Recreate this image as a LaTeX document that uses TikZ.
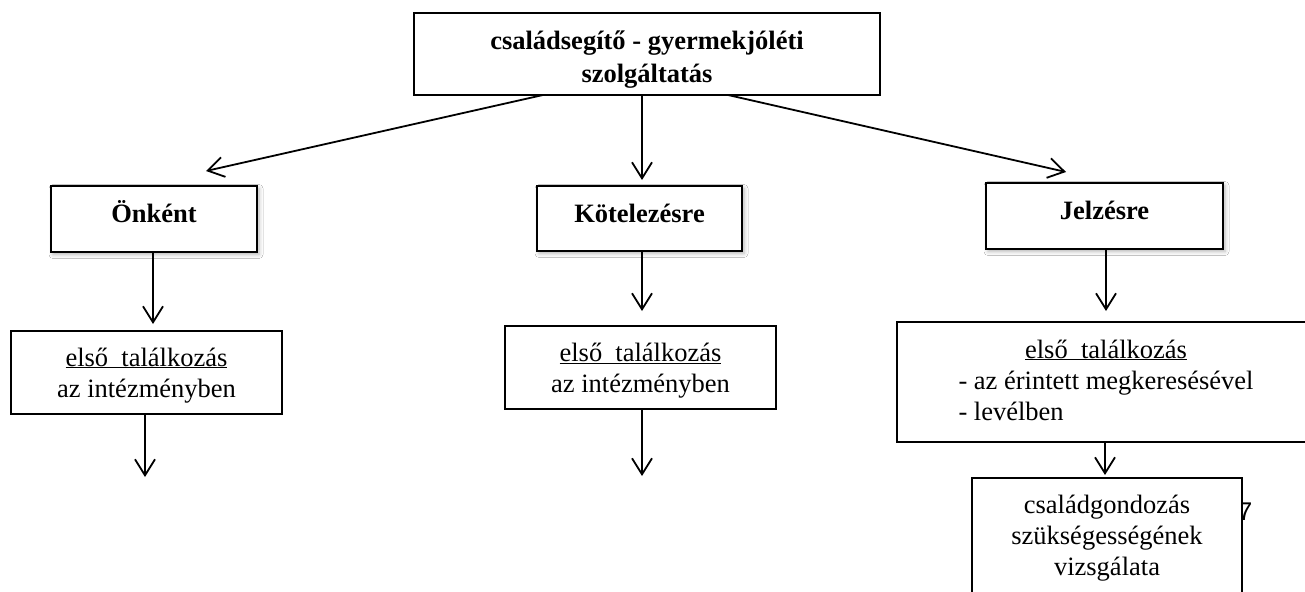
\documentclass[tikz,border=0pt]{standalone}
\usepackage{fontspec}
\setmainfont{Liberation Serif}
\newfontfamily\pagenumfont{Liberation Sans}
\usetikzlibrary{arrows.meta,shadows.blur}
\begin{document}
\begin{tikzpicture}[x=1pt,y=-1pt,
  box/.style={draw,line width=1.9pt,fill=white,inner sep=0pt,outer sep=0pt,
    font=\fontsize{26.5}{31}\selectfont},
  shbox/.style={box,blur shadow={shadow xshift=2pt,shadow yshift=-2.5pt,
    shadow blur radius=4pt,shadow opacity=30}},
  arr/.style={line width=1.8pt,-{Straight Barb[length=16pt,width=20pt]}}]
\useasboundingbox (0,0) rectangle (1305,591);
\fill[white] (0,0) rectangle (1305,591);
\clip (0,0) rectangle (1305,591);

% top
\node[box,minimum width=466pt,minimum height=82pt,text height=0pt,text depth=8pt,
  font=\fontsize{26.5}{33}\selectfont\bfseries] (top) at (647,54)
  {\begin{tabular}[t]{@{}c@{}}családsegítő - gyermekjóléti\\szolgáltatás\end{tabular}};

% second row
\node[shbox,minimum width=206pt,minimum height=66pt,text height=6pt,text depth=0pt,
  font=\fontsize{26.5}{31}\selectfont\bfseries] (onk) at (154,219) {Önként};
\node[shbox,minimum width=205pt,minimum height=65pt,text height=7pt,text depth=0pt,
  font=\fontsize{26.5}{31}\selectfont\bfseries] (kot) at (639.5,218.5) {Kötelezésre};
\node[shbox,minimum width=237pt,minimum height=66pt,text height=6pt,text depth=0pt,
  font=\fontsize{26.5}{31}\selectfont\bfseries] (jel) at (1104.5,216) {Jelzésre};

% third row
\node[box,minimum width=271pt,minimum height=83pt,text height=0pt,text depth=13pt] (e1) at (146.5,372.5)
  {\begin{tabular}[t]{@{}c@{}}\underline{első\ \ találkozás}\\az intézményben\end{tabular}};
\node[box,minimum width=271pt,minimum height=83pt,text height=0pt,text depth=12pt] (e2) at (640.5,367.5)
  {\begin{tabular}[t]{@{}c@{}}\underline{első\ \ találkozás}\\az intézményben\end{tabular}};
\node[box,minimum width=418pt,minimum height=120pt,text height=0pt,text depth=48pt] (e3) at (1106,382)
  {\begin{tabular}[t]{@{}l@{}}\multicolumn{1}{@{}c@{}}{\underline{első\ \ találkozás}}\\- az érintett megkeresésével\\- levélben\end{tabular}};

% page number fragment
\node[anchor=base west,inner sep=0pt,font=\pagenumfont\fontsize{25.6}{30}\selectfont] (pn) at (1238,520) {7};

% fourth row
\node[box,minimum width=270pt,minimum height=128pt,text height=0pt,text depth=58pt] (cs) at (1107,542)
  {\begin{tabular}[t]{@{}c@{}}családgondozás\\szükségességének\\vizsgálata\end{tabular}};

\coordinate (e1end) at (145,477);
\coordinate (e2end) at (642,476);

% connectors
\draw[arr] ([xshift=-104pt]top.south) -- ([xshift=52pt,yshift=15pt]onk.north);
\draw[arr] ([xshift=-5pt]top.south) -- ([xshift=2.5pt,yshift=6pt]kot.north);
\draw[arr] ([xshift=81pt]top.south) -- ([xshift=-38.5pt,yshift=11pt]jel.north);
\draw[arr] ([xshift=-1pt]onk.south) -- ([xshift=6.5pt,yshift=7pt]e1.north);
\draw[arr] ([xshift=2.5pt]kot.south) -- ([xshift=1.5pt,yshift=15pt]e2.north);
\draw[arr] ([xshift=1.5pt]jel.south) -- ([yshift=11pt]e3.north);
\draw[arr] ([xshift=-1.5pt]e1.south) -- (e1end);
\draw[arr] ([xshift=1.5pt]e2.south) -- (e2end);
\draw[arr] ([xshift=-1pt]e3.south) -- ([xshift=-2pt,yshift=3pt]cs.north);
\end{tikzpicture}
\end{document}
